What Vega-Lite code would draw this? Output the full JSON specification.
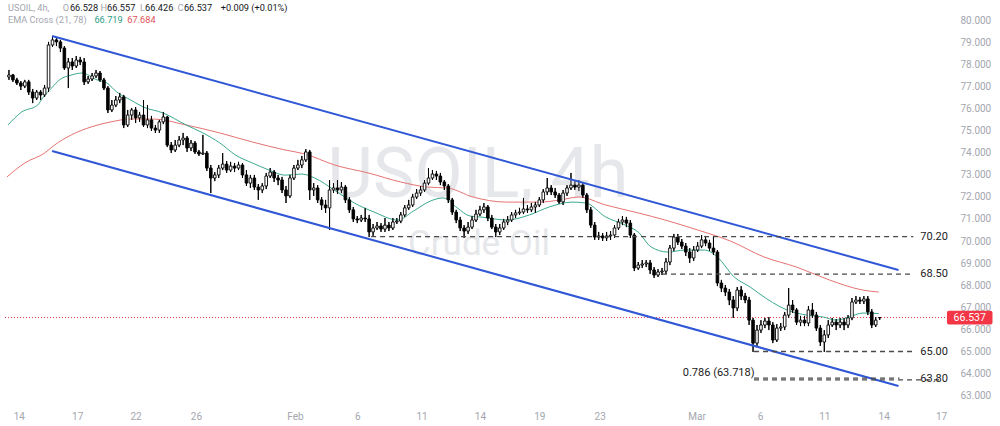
{
  "$schema": "https://vega.github.io/schema/vega-lite/v6.json",
  "width": 950,
  "height": 405,
  "autosize": {"type": "none"},
  "padding": {"left": 0, "top": 0, "right": 50, "bottom": 21},
  "background": "#ffffff",
  "config": {
    "view": {"stroke": null},
    "axis": {"grid": false, "domain": false, "ticks": false, "labelFont": "Roboto", "labelFontSize": 10, "labelColor": "#a3a6af", "labelOverlap": false}
  },
  "datasets": {
    "candles": [
      {"t":1,"o":77.42,"h":77.74,"l":77.29,"c":77.51},
      {"t":2,"o":77.51,"h":77.56,"l":77.20,"c":77.29},
      {"t":3,"o":77.29,"h":77.38,"l":77.06,"c":77.15},
      {"t":4,"o":77.15,"h":77.24,"l":76.83,"c":77.01},
      {"t":5,"o":77.01,"h":77.29,"l":76.92,"c":77.20},
      {"t":6,"o":77.20,"h":77.29,"l":76.61,"c":76.74},
      {"t":7,"o":76.74,"h":76.88,"l":76.24,"c":76.47},
      {"t":8,"o":76.47,"h":76.83,"l":76.38,"c":76.74},
      {"t":9,"o":76.74,"h":76.83,"l":76.38,"c":76.61},
      {"t":10,"o":76.61,"h":77.06,"l":76.52,"c":76.92},
      {"t":11,"o":76.92,"h":79.01,"l":76.74,"c":78.87},
      {"t":12,"o":78.87,"h":79.28,"l":78.78,"c":79.10},
      {"t":13,"o":79.10,"h":79.19,"l":78.82,"c":79.01},
      {"t":14,"o":79.01,"h":79.10,"l":78.55,"c":78.73},
      {"t":15,"o":78.73,"h":78.82,"l":77.74,"c":77.83},
      {"t":16,"o":77.83,"h":78.28,"l":76.92,"c":78.10},
      {"t":17,"o":78.10,"h":78.28,"l":77.74,"c":77.92},
      {"t":18,"o":77.92,"h":78.37,"l":77.83,"c":78.19},
      {"t":19,"o":78.19,"h":78.33,"l":77.96,"c":78.10},
      {"t":20,"o":78.10,"h":78.28,"l":77.06,"c":77.20},
      {"t":21,"o":77.20,"h":77.47,"l":77.11,"c":77.33},
      {"t":22,"o":77.33,"h":77.60,"l":77.24,"c":77.47},
      {"t":23,"o":77.47,"h":77.74,"l":77.38,"c":77.60},
      {"t":24,"o":77.60,"h":77.69,"l":77.20,"c":77.29},
      {"t":25,"o":77.29,"h":77.38,"l":76.83,"c":76.92},
      {"t":26,"o":76.92,"h":77.01,"l":75.79,"c":75.93},
      {"t":27,"o":75.93,"h":76.38,"l":75.84,"c":76.15},
      {"t":28,"o":76.15,"h":76.56,"l":76.06,"c":76.38},
      {"t":29,"o":76.38,"h":76.70,"l":76.24,"c":76.52},
      {"t":30,"o":76.52,"h":76.61,"l":75.11,"c":75.25},
      {"t":31,"o":75.25,"h":75.93,"l":75.16,"c":75.70},
      {"t":32,"o":75.70,"h":76.02,"l":75.48,"c":75.93},
      {"t":33,"o":75.93,"h":76.06,"l":75.34,"c":75.57},
      {"t":34,"o":75.57,"h":75.84,"l":75.39,"c":75.70},
      {"t":35,"o":75.70,"h":76.38,"l":75.16,"c":75.25},
      {"t":36,"o":75.25,"h":76.15,"l":75.11,"c":75.48},
      {"t":37,"o":75.48,"h":75.66,"l":74.98,"c":75.11},
      {"t":38,"o":75.11,"h":75.25,"l":74.89,"c":75.02},
      {"t":39,"o":75.02,"h":75.48,"l":74.89,"c":75.39},
      {"t":40,"o":75.39,"h":75.84,"l":75.29,"c":75.61},
      {"t":41,"o":75.61,"h":75.66,"l":74.25,"c":74.34},
      {"t":42,"o":74.34,"h":74.48,"l":73.98,"c":74.12},
      {"t":43,"o":74.12,"h":74.57,"l":74.03,"c":74.34},
      {"t":44,"o":74.34,"h":74.75,"l":74.25,"c":74.57},
      {"t":45,"o":74.57,"h":74.89,"l":74.34,"c":74.66},
      {"t":46,"o":74.66,"h":74.75,"l":74.03,"c":74.21},
      {"t":47,"o":74.21,"h":74.57,"l":74.07,"c":74.43},
      {"t":48,"o":74.43,"h":74.52,"l":73.94,"c":74.03},
      {"t":49,"o":74.03,"h":74.12,"l":73.85,"c":73.94},
      {"t":50,"o":73.94,"h":74.80,"l":73.89,"c":73.98},
      {"t":51,"o":73.98,"h":74.07,"l":73.17,"c":73.30},
      {"t":52,"o":73.30,"h":73.44,"l":72.17,"c":72.85},
      {"t":53,"o":72.85,"h":73.12,"l":72.71,"c":72.99},
      {"t":54,"o":72.99,"h":73.44,"l":72.85,"c":73.30},
      {"t":55,"o":73.30,"h":73.98,"l":73.21,"c":73.48},
      {"t":56,"o":73.48,"h":73.62,"l":73.08,"c":73.21},
      {"t":57,"o":73.21,"h":73.58,"l":73.12,"c":73.39},
      {"t":58,"o":73.39,"h":73.53,"l":73.12,"c":73.30},
      {"t":59,"o":73.30,"h":73.58,"l":73.21,"c":73.44},
      {"t":60,"o":73.44,"h":73.53,"l":72.85,"c":72.99},
      {"t":61,"o":72.99,"h":73.21,"l":72.49,"c":72.62},
      {"t":62,"o":72.62,"h":72.99,"l":72.40,"c":72.85},
      {"t":63,"o":72.85,"h":72.99,"l":72.31,"c":72.44},
      {"t":64,"o":72.44,"h":72.58,"l":71.86,"c":72.31},
      {"t":65,"o":72.31,"h":72.62,"l":72.17,"c":72.49},
      {"t":66,"o":72.49,"h":73.08,"l":72.35,"c":72.94},
      {"t":67,"o":72.94,"h":73.30,"l":72.85,"c":73.12},
      {"t":68,"o":73.12,"h":73.21,"l":72.67,"c":72.85},
      {"t":69,"o":72.85,"h":72.99,"l":72.53,"c":72.76},
      {"t":70,"o":72.76,"h":72.90,"l":72.17,"c":72.31},
      {"t":71,"o":72.31,"h":72.49,"l":71.72,"c":72.04},
      {"t":72,"o":72.04,"h":72.99,"l":71.95,"c":72.85},
      {"t":73,"o":72.85,"h":73.44,"l":72.76,"c":73.30},
      {"t":74,"o":73.30,"h":73.67,"l":73.21,"c":73.44},
      {"t":75,"o":73.44,"h":73.85,"l":73.30,"c":73.67},
      {"t":76,"o":73.67,"h":74.16,"l":73.58,"c":74.03},
      {"t":77,"o":74.03,"h":74.12,"l":71.86,"c":72.31},
      {"t":78,"o":72.31,"h":72.62,"l":72.04,"c":72.40},
      {"t":79,"o":72.40,"h":72.53,"l":71.72,"c":71.86},
      {"t":80,"o":71.86,"h":71.99,"l":71.41,"c":71.63},
      {"t":81,"o":71.63,"h":71.86,"l":71.27,"c":71.50},
      {"t":82,"o":71.50,"h":72.76,"l":70.50,"c":72.31},
      {"t":83,"o":72.31,"h":72.62,"l":72.17,"c":72.40},
      {"t":84,"o":72.40,"h":72.76,"l":72.13,"c":72.31},
      {"t":85,"o":72.31,"h":72.67,"l":72.17,"c":72.44},
      {"t":86,"o":72.44,"h":72.53,"l":71.72,"c":71.86},
      {"t":87,"o":71.86,"h":71.99,"l":71.27,"c":71.41},
      {"t":88,"o":71.41,"h":71.54,"l":70.86,"c":71.00},
      {"t":89,"o":71.00,"h":71.13,"l":70.81,"c":70.95},
      {"t":90,"o":70.95,"h":71.18,"l":70.86,"c":71.04},
      {"t":91,"o":71.04,"h":71.50,"l":70.86,"c":71.00},
      {"t":92,"o":71.00,"h":71.18,"l":70.18,"c":70.41},
      {"t":93,"o":70.41,"h":70.77,"l":70.23,"c":70.59},
      {"t":94,"o":70.59,"h":70.86,"l":70.50,"c":70.68},
      {"t":95,"o":70.68,"h":70.81,"l":70.41,"c":70.54},
      {"t":96,"o":70.54,"h":71.04,"l":70.41,"c":70.72},
      {"t":97,"o":70.72,"h":70.86,"l":70.45,"c":70.59},
      {"t":98,"o":70.59,"h":71.04,"l":70.50,"c":70.86},
      {"t":99,"o":70.86,"h":71.04,"l":70.77,"c":70.90},
      {"t":100,"o":70.90,"h":71.31,"l":70.81,"c":71.18},
      {"t":101,"o":71.18,"h":71.63,"l":71.09,"c":71.50},
      {"t":102,"o":71.50,"h":71.86,"l":71.41,"c":71.63},
      {"t":103,"o":71.63,"h":72.13,"l":71.54,"c":71.99},
      {"t":104,"o":71.99,"h":72.35,"l":71.90,"c":72.17},
      {"t":105,"o":72.17,"h":72.49,"l":72.04,"c":72.31},
      {"t":106,"o":72.31,"h":72.76,"l":72.22,"c":72.62},
      {"t":107,"o":72.62,"h":73.30,"l":72.53,"c":72.85},
      {"t":108,"o":72.85,"h":73.21,"l":72.76,"c":73.03},
      {"t":109,"o":73.03,"h":73.17,"l":72.76,"c":72.94},
      {"t":110,"o":72.94,"h":73.08,"l":72.53,"c":72.67},
      {"t":111,"o":72.67,"h":72.76,"l":72.31,"c":72.49},
      {"t":112,"o":72.49,"h":72.58,"l":71.72,"c":71.86},
      {"t":113,"o":71.86,"h":71.95,"l":71.18,"c":71.31},
      {"t":114,"o":71.31,"h":71.41,"l":70.81,"c":70.95},
      {"t":115,"o":70.95,"h":71.09,"l":70.45,"c":70.59},
      {"t":116,"o":70.59,"h":70.72,"l":70.14,"c":70.45},
      {"t":117,"o":70.45,"h":70.86,"l":70.32,"c":70.63},
      {"t":118,"o":70.63,"h":71.13,"l":70.54,"c":70.95},
      {"t":119,"o":70.95,"h":71.41,"l":70.86,"c":71.22},
      {"t":120,"o":71.22,"h":71.59,"l":71.13,"c":71.41},
      {"t":121,"o":71.41,"h":71.72,"l":71.27,"c":71.54},
      {"t":122,"o":71.54,"h":71.63,"l":70.90,"c":71.04},
      {"t":123,"o":71.04,"h":71.18,"l":70.54,"c":70.63},
      {"t":124,"o":70.63,"h":70.77,"l":70.18,"c":70.41},
      {"t":125,"o":70.41,"h":70.77,"l":70.27,"c":70.59},
      {"t":126,"o":70.59,"h":71.00,"l":70.50,"c":70.86},
      {"t":127,"o":70.86,"h":71.13,"l":70.72,"c":70.95},
      {"t":128,"o":70.95,"h":71.31,"l":70.86,"c":71.18},
      {"t":129,"o":71.18,"h":71.41,"l":71.04,"c":71.27},
      {"t":130,"o":71.27,"h":71.50,"l":71.18,"c":71.31},
      {"t":131,"o":71.31,"h":71.95,"l":71.22,"c":71.45},
      {"t":132,"o":71.45,"h":71.63,"l":71.27,"c":71.41},
      {"t":133,"o":71.41,"h":71.72,"l":71.31,"c":71.54},
      {"t":134,"o":71.54,"h":71.77,"l":71.27,"c":71.63},
      {"t":135,"o":71.63,"h":71.99,"l":71.54,"c":71.86},
      {"t":136,"o":71.86,"h":72.35,"l":71.72,"c":72.22},
      {"t":137,"o":72.22,"h":72.85,"l":72.08,"c":72.40},
      {"t":138,"o":72.40,"h":72.53,"l":72.08,"c":72.22},
      {"t":139,"o":72.22,"h":72.40,"l":71.95,"c":72.08},
      {"t":140,"o":72.08,"h":72.17,"l":71.68,"c":71.77},
      {"t":141,"o":71.77,"h":72.31,"l":71.63,"c":72.17},
      {"t":142,"o":72.17,"h":72.53,"l":72.04,"c":72.40},
      {"t":143,"o":72.40,"h":73.08,"l":72.31,"c":72.53},
      {"t":144,"o":72.53,"h":72.71,"l":72.31,"c":72.44},
      {"t":145,"o":72.44,"h":72.76,"l":72.26,"c":72.53},
      {"t":146,"o":72.53,"h":72.62,"l":71.95,"c":72.08},
      {"t":147,"o":72.08,"h":72.17,"l":71.27,"c":71.41},
      {"t":148,"o":71.41,"h":71.54,"l":70.59,"c":70.72},
      {"t":149,"o":70.72,"h":70.86,"l":70.05,"c":70.18},
      {"t":150,"o":70.18,"h":70.41,"l":70.05,"c":70.23},
      {"t":151,"o":70.23,"h":70.36,"l":70.00,"c":70.14},
      {"t":152,"o":70.14,"h":70.41,"l":70.00,"c":70.23},
      {"t":153,"o":70.23,"h":70.45,"l":70.05,"c":70.27},
      {"t":154,"o":70.27,"h":70.72,"l":70.14,"c":70.59},
      {"t":155,"o":70.59,"h":71.00,"l":70.50,"c":70.86},
      {"t":156,"o":70.86,"h":71.13,"l":70.72,"c":70.95},
      {"t":157,"o":70.95,"h":71.09,"l":70.63,"c":70.81},
      {"t":158,"o":70.81,"h":70.95,"l":70.14,"c":70.27},
      {"t":159,"o":70.27,"h":70.36,"l":68.64,"c":68.78},
      {"t":160,"o":68.78,"h":69.05,"l":68.69,"c":68.91},
      {"t":161,"o":68.91,"h":69.14,"l":68.78,"c":68.96},
      {"t":162,"o":68.96,"h":69.14,"l":68.82,"c":69.01},
      {"t":163,"o":69.01,"h":69.14,"l":68.51,"c":68.69},
      {"t":164,"o":68.69,"h":68.82,"l":68.33,"c":68.46},
      {"t":165,"o":68.46,"h":68.73,"l":68.37,"c":68.60},
      {"t":166,"o":68.60,"h":68.78,"l":68.46,"c":68.64},
      {"t":167,"o":68.64,"h":69.23,"l":68.51,"c":69.05},
      {"t":168,"o":69.05,"h":69.82,"l":68.91,"c":69.68},
      {"t":169,"o":69.68,"h":70.32,"l":69.55,"c":70.18},
      {"t":170,"o":70.18,"h":70.32,"l":69.82,"c":69.95},
      {"t":171,"o":69.95,"h":70.09,"l":69.64,"c":69.77},
      {"t":172,"o":69.77,"h":69.91,"l":69.32,"c":69.50},
      {"t":173,"o":69.50,"h":69.68,"l":69.01,"c":69.23},
      {"t":174,"o":69.23,"h":69.77,"l":69.10,"c":69.59},
      {"t":175,"o":69.59,"h":69.95,"l":69.50,"c":69.77},
      {"t":176,"o":69.77,"h":70.27,"l":69.68,"c":70.05},
      {"t":177,"o":70.05,"h":70.23,"l":69.77,"c":69.91},
      {"t":178,"o":69.91,"h":70.05,"l":69.55,"c":69.68},
      {"t":179,"o":69.68,"h":70.23,"l":69.37,"c":69.50},
      {"t":180,"o":69.50,"h":69.59,"l":67.96,"c":68.10},
      {"t":181,"o":68.10,"h":68.24,"l":67.69,"c":67.87},
      {"t":182,"o":67.87,"h":68.01,"l":67.51,"c":67.69},
      {"t":183,"o":67.69,"h":67.83,"l":67.10,"c":67.33},
      {"t":184,"o":67.33,"h":67.51,"l":66.52,"c":66.97},
      {"t":185,"o":66.97,"h":67.92,"l":66.83,"c":67.78},
      {"t":186,"o":67.78,"h":67.96,"l":67.33,"c":67.51},
      {"t":187,"o":67.51,"h":67.65,"l":67.19,"c":67.33},
      {"t":188,"o":67.33,"h":67.47,"l":66.20,"c":66.42},
      {"t":189,"o":66.42,"h":66.52,"l":64.98,"c":65.38},
      {"t":190,"o":65.38,"h":66.20,"l":65.25,"c":65.97},
      {"t":191,"o":65.97,"h":66.42,"l":65.84,"c":66.20},
      {"t":192,"o":66.20,"h":66.52,"l":66.06,"c":66.38},
      {"t":193,"o":66.38,"h":66.56,"l":65.97,"c":66.20},
      {"t":194,"o":66.20,"h":66.33,"l":65.38,"c":65.52},
      {"t":195,"o":65.52,"h":66.24,"l":65.43,"c":66.06},
      {"t":196,"o":66.06,"h":66.29,"l":65.93,"c":66.11},
      {"t":197,"o":66.11,"h":66.79,"l":65.97,"c":66.65},
      {"t":198,"o":66.65,"h":67.87,"l":66.52,"c":67.10},
      {"t":199,"o":67.10,"h":67.33,"l":66.74,"c":66.88},
      {"t":200,"o":66.88,"h":66.97,"l":66.20,"c":66.33},
      {"t":201,"o":66.33,"h":66.61,"l":66.15,"c":66.42},
      {"t":202,"o":66.42,"h":66.61,"l":66.15,"c":66.29},
      {"t":203,"o":66.29,"h":67.06,"l":66.15,"c":66.88},
      {"t":204,"o":66.88,"h":67.19,"l":66.52,"c":66.65},
      {"t":205,"o":66.65,"h":66.79,"l":65.93,"c":66.06},
      {"t":206,"o":66.06,"h":66.20,"l":65.25,"c":65.43},
      {"t":207,"o":65.43,"h":65.97,"l":64.98,"c":65.75},
      {"t":208,"o":65.75,"h":66.42,"l":65.61,"c":66.20},
      {"t":209,"o":66.20,"h":66.52,"l":66.11,"c":66.33},
      {"t":210,"o":66.33,"h":66.47,"l":65.97,"c":66.20},
      {"t":211,"o":66.20,"h":66.52,"l":66.06,"c":66.33},
      {"t":212,"o":66.33,"h":66.52,"l":65.97,"c":66.20},
      {"t":213,"o":66.20,"h":66.65,"l":66.06,"c":66.52},
      {"t":214,"o":66.52,"h":67.42,"l":66.42,"c":67.24},
      {"t":215,"o":67.24,"h":67.51,"l":67.15,"c":67.33},
      {"t":216,"o":67.33,"h":67.47,"l":67.15,"c":67.28},
      {"t":217,"o":67.28,"h":67.51,"l":67.15,"c":67.38},
      {"t":218,"o":67.38,"h":67.51,"l":66.65,"c":66.79},
      {"t":219,"o":66.79,"h":66.92,"l":66.06,"c":66.20},
      {"t":220,"o":66.20,"h":66.56,"l":66.11,"c":66.42},
      {"t":221,"o":66.528,"h":66.557,"l":66.426,"c":66.537}
    ],
    "ema21": [
      {"t":0.75,"v":75.25},{"t":4.25,"v":75.84},{"t":8.25,"v":76.15},{"t":9.5,"v":76.47},{"t":11.75,"v":76.92},
      {"t":13.75,"v":77.29},{"t":16.75,"v":77.51},{"t":19.5,"v":77.60},{"t":23.25,"v":77.29},{"t":25.75,"v":77.15},
      {"t":28.25,"v":76.74},{"t":31.75,"v":76.38},{"t":35,"v":76.06},{"t":40,"v":75.79},{"t":45.75,"v":75.25},
      {"t":50,"v":74.89},{"t":54.25,"v":74.44},{"t":58.25,"v":73.89},{"t":62.5,"v":73.53},{"t":66.75,"v":73.21},
      {"t":70.75,"v":72.98},{"t":75,"v":73.03},{"t":78.25,"v":72.85},{"t":83.25,"v":72.30},{"t":88.25,"v":71.72},
      {"t":93.25,"v":71.31},{"t":99.25,"v":70.95},{"t":103.25,"v":71.36},{"t":107.5,"v":71.81},{"t":110.75,"v":71.95},
      {"t":114.25,"v":71.50},{"t":117.5,"v":71.13},{"t":120,"v":71.09},{"t":126.75,"v":70.95},{"t":132.5,"v":71.18},
      {"t":137.5,"v":71.54},{"t":143.25,"v":71.76},{"t":146.75,"v":71.72},{"t":151.75,"v":71.09},{"t":156.75,"v":70.72},
      {"t":160,"v":70.40},{"t":163.25,"v":69.73},{"t":167.5,"v":69.50},{"t":171.75,"v":69.59},{"t":176.75,"v":69.59},
      {"t":180,"v":69.27},{"t":184.25,"v":68.37},{"t":188.25,"v":67.92},{"t":192.5,"v":67.38},{"t":198.25,"v":66.83},
      {"t":202.5,"v":66.65},{"t":206.75,"v":66.56},{"t":210,"v":66.42},{"t":213.25,"v":66.56},{"t":216.75,"v":66.74},
      {"t":220.75,"v":66.72}
    ],
    "ema78": [
      {"t":0.5,"v":72.90},{"t":5,"v":73.53},{"t":10,"v":73.98},{"t":12.5,"v":74.34},{"t":16.75,"v":74.80},
      {"t":21.75,"v":75.16},{"t":26.75,"v":75.39},{"t":31.75,"v":75.52},{"t":37.5,"v":75.52},{"t":45.75,"v":75.25},
      {"t":54.25,"v":74.89},{"t":62.5,"v":74.48},{"t":70.75,"v":74.12},{"t":75.75,"v":73.94},{"t":83.25,"v":73.44},
      {"t":91.75,"v":73.08},{"t":100,"v":72.67},{"t":106.75,"v":72.44},{"t":111.75,"v":72.40},{"t":118.25,"v":71.99},
      {"t":126.75,"v":71.76},{"t":135,"v":71.76},{"t":140,"v":71.85},{"t":145,"v":71.99},{"t":151.75,"v":71.63},
      {"t":160,"v":71.27},{"t":166.75,"v":70.95},{"t":175,"v":70.50},{"t":183.25,"v":70.00},{"t":191.75,"v":69.28},
      {"t":200,"v":68.82},{"t":208.25,"v":68.24},{"t":216.75,"v":67.78},{"t":220.75,"v":67.69}
    ],
    "channels": [
      {"t1":11.9,"p1":79.28,"t2":225.75,"p2":68.69},
      {"t1":11.9,"p1":74.07,"t2":225.75,"p2":63.44}
    ],
    "levels": [
      {"p":70.20,"t1":92.5,"t2":229.5},
      {"p":68.50,"t1":166,"t2":229.5},
      {"p":65.00,"t1":189.25,"t2":229.5},
      {"p":63.80,"t1":189.25,"t2":226},
      {"p":63.718,"t1":189.25,"t2":237}
    ],
    "levelLabels": [
      {"p":70.20,"lab":"70.20"},
      {"p":68.50,"lab":"68.50"},
      {"p":65.00,"lab":"65.00"},
      {"p":63.76,"lab":"63.80"}
    ]
  },
  "layer": [
    {
      "data": {"name": "candles"},
      "mark": {"type": "rule", "color": "#000000", "strokeWidth": 1},
      "encoding": {
        "x": {
          "field": "t", "type": "quantitative",
          "scale": {"domain": [0, 237.5], "nice": false, "zero": false},
          "axis": {
            "orient": "bottom", "title": null, "labelPadding": 6, "labelOverlap": false, "labelFlush": false, "tickCount": 30,
            "values": [3.5, 18.25, 33, 48.25, 73.25, 89, 105.25, 120, 135, 150.25, 174.75, 190.75, 207, 222, 236.5],
            "labelExpr": "['14','17','22','26','Feb','6','11','14','19','23','Mar','6','11','14','17'][indexof([3.5,18.25,33,48.25,73.25,89,105.25,120,135,150.25,174.75,190.75,207,222,236.5], datum.value)]"
          }
        },
        "y": {
          "field": "l", "type": "quantitative",
          "scale": {"domain": [62.58, 80.905], "nice": false, "zero": false},
          "axis": {
            "orient": "right", "title": null, "format": ".3f", "labelPadding": 10, "labelOverlap": false, "labelFlush": false, "tickCount": 30,
            "values": [63, 64, 65, 66, 67, 68, 69, 70, 71, 72, 73, 74, 75, 76, 77, 78, 79, 80]
          }
        },
        "y2": {"field": "h"}
      }
    },
    {
      "data": {"values": [{}]},
      "mark": {"type": "text", "font": "Roboto", "fontSize": 70, "color": "#e6e7ea", "align": "center", "baseline": "alphabetic"},
      "encoding": {"x": {"datum": 119.5}, "y": {"datum": 72.0}, "text": {"value": "USOIL, 4h"}}
    },
    {
      "data": {"values": [{}]},
      "mark": {"type": "text", "font": "Roboto", "fontSize": 35, "color": "#e6e7ea", "align": "center", "baseline": "alphabetic"},
      "encoding": {"x": {"datum": 119.75}, "y": {"datum": 69.37}, "text": {"value": "Crude Oil"}}
    },
    {
      "data": {"values": [{}]},
      "mark": {"type": "rule", "color": "#f23645", "strokeDash": [1, 2], "strokeWidth": 1},
      "encoding": {"x": {"datum": 0}, "x2": {"datum": 237.5}, "y": {"datum": 66.537}}
    },
    {
      "data": {"name": "ema78"},
      "mark": {"type": "line", "color": "#e57373", "strokeWidth": 1, "interpolate": "monotone"},
      "encoding": {"x": {"field": "t", "type": "quantitative", "axis": {"title": null}}, "y": {"field": "v", "type": "quantitative", "axis": {"title": null}}}
    },
    {
      "data": {"name": "ema21"},
      "mark": {"type": "line", "color": "#3aa88f", "strokeWidth": 1, "interpolate": "monotone"},
      "encoding": {"x": {"field": "t", "type": "quantitative", "axis": {"title": null}}, "y": {"field": "v", "type": "quantitative", "axis": {"title": null}}}
    },
    {
      "data": {"name": "candles"},
      "mark": {"type": "rule", "color": "#000000", "strokeWidth": 1},
      "encoding": {
        "x": {"field": "t", "type": "quantitative", "axis": {"title": null}},
        "y": {"field": "l", "type": "quantitative", "axis": {"title": null}},
        "y2": {"field": "h"}
      }
    },
    {
      "data": {"name": "candles"},
      "mark": {"type": "bar", "width": 2.6, "stroke": "#000000", "strokeWidth": 0.9},
      "encoding": {
        "x": {"field": "t", "type": "quantitative", "axis": {"title": null}},
        "y": {"field": "o", "type": "quantitative", "axis": {"title": null}},
        "y2": {"field": "c"},
        "fill": {"condition": {"test": "datum.c >= datum.o", "value": "#ffffff"}, "value": "#000000"}
      }
    },
    {
      "data": {"name": "channels"},
      "mark": {"type": "rule", "color": "#2f57d6", "strokeWidth": 2},
      "encoding": {
        "x": {"field": "t1", "type": "quantitative", "axis": {"title": null}}, "x2": {"field": "t2"},
        "y": {"field": "p1", "type": "quantitative", "axis": {"title": null}}, "y2": {"field": "p2"}
      }
    },
    {
      "data": {"name": "levels"},
      "mark": {"type": "rule", "color": "#4a4a4a", "strokeDash": [5, 4], "strokeWidth": 1.3},
      "encoding": {
        "x": {"field": "t1", "type": "quantitative", "axis": {"title": null}}, "x2": {"field": "t2"},
        "y": {"field": "p", "type": "quantitative", "axis": {"title": null}}
      }
    },
    {
      "data": {"name": "levelLabels"},
      "mark": {"type": "text", "font": "Roboto", "fontSize": 11, "color": "#222222", "align": "left", "baseline": "middle"},
      "encoding": {
        "x": {"datum": 231.25},
        "y": {"field": "p", "type": "quantitative", "axis": {"title": null}},
        "text": {"field": "lab"}
      }
    },
    {
      "data": {"values": [{}]},
      "mark": {"type": "text", "font": "Roboto", "fontSize": 11, "color": "#222222", "align": "left", "baseline": "middle"},
      "encoding": {"x": {"datum": 171.25}, "y": {"datum": 64.03}, "text": {"value": "0.786 (63.718)"}}
    },
    {
      "data": {"values": [{}]},
      "mark": {"type": "rect", "color": "#f23645", "cornerRadius": 2},
      "encoding": {"x": {"datum": 238}, "x2": {"datum": 249.5}, "y": {"datum": 66.85}, "y2": {"datum": 66.22}}
    },
    {
      "data": {"values": [{}]},
      "mark": {"type": "text", "font": "Roboto", "fontSize": 10.5, "color": "#ffffff", "align": "center", "baseline": "middle"},
      "encoding": {"x": {"datum": 243.75}, "y": {"datum": 66.537}, "text": {"value": "66.537"}}
    },
    {
      "data": {"values": [{}]},
      "mark": {"type": "text", "font": "Roboto", "fontSize": 9.2, "color": "#a3a6af", "align": "left", "baseline": "middle"},
      "encoding": {"x": {"datum": 0.75}, "y": {"datum": 80.54}, "text": {"value": "USOIL, 4h,"}}
    },
    {
      "data": {"values": [{}]},
      "mark": {"type": "text", "font": "Roboto", "fontSize": 9.2, "color": "#a3a6af", "align": "left", "baseline": "middle"},
      "encoding": {"x": {"datum": 14.6}, "y": {"datum": 80.54}, "text": {"value": "O"}}
    },
    {
      "data": {"values": [{}]},
      "mark": {"type": "text", "font": "Roboto", "fontSize": 9.2, "color": "#131722", "align": "left", "baseline": "middle"},
      "encoding": {"x": {"datum": 16.4}, "y": {"datum": 80.54}, "text": {"value": "66.528"}}
    },
    {
      "data": {"values": [{}]},
      "mark": {"type": "text", "font": "Roboto", "fontSize": 9.2, "color": "#a3a6af", "align": "left", "baseline": "middle"},
      "encoding": {"x": {"datum": 24.1}, "y": {"datum": 80.54}, "text": {"value": "H"}}
    },
    {
      "data": {"values": [{}]},
      "mark": {"type": "text", "font": "Roboto", "fontSize": 9.2, "color": "#131722", "align": "left", "baseline": "middle"},
      "encoding": {"x": {"datum": 25.8}, "y": {"datum": 80.54}, "text": {"value": "66.557"}}
    },
    {
      "data": {"values": [{}]},
      "mark": {"type": "text", "font": "Roboto", "fontSize": 9.2, "color": "#a3a6af", "align": "left", "baseline": "middle"},
      "encoding": {"x": {"datum": 34.1}, "y": {"datum": 80.54}, "text": {"value": "L"}}
    },
    {
      "data": {"values": [{}]},
      "mark": {"type": "text", "font": "Roboto", "fontSize": 9.2, "color": "#131722", "align": "left", "baseline": "middle"},
      "encoding": {"x": {"datum": 35.4}, "y": {"datum": 80.54}, "text": {"value": "66.426"}}
    },
    {
      "data": {"values": [{}]},
      "mark": {"type": "text", "font": "Roboto", "fontSize": 9.2, "color": "#a3a6af", "align": "left", "baseline": "middle"},
      "encoding": {"x": {"datum": 43.6}, "y": {"datum": 80.54}, "text": {"value": "C"}}
    },
    {
      "data": {"values": [{}]},
      "mark": {"type": "text", "font": "Roboto", "fontSize": 9.2, "color": "#131722", "align": "left", "baseline": "middle"},
      "encoding": {"x": {"datum": 45.2}, "y": {"datum": 80.54}, "text": {"value": "66.537"}}
    },
    {
      "data": {"values": [{}]},
      "mark": {"type": "text", "font": "Roboto", "fontSize": 9.2, "color": "#131722", "align": "left", "baseline": "middle"},
      "encoding": {"x": {"datum": 54.5}, "y": {"datum": 80.54}, "text": {"value": "+0.009 (+0.01%)"}}
    },
    {
      "data": {"values": [{}]},
      "mark": {"type": "text", "font": "Roboto", "fontSize": 9.2, "color": "#a3a6af", "align": "left", "baseline": "middle"},
      "encoding": {"x": {"datum": 0.75}, "y": {"datum": 80.0}, "text": {"value": "EMA Cross (21, 78)"}}
    },
    {
      "data": {"values": [{}]},
      "mark": {"type": "text", "font": "Roboto", "fontSize": 9.2, "color": "#2e9e86", "align": "left", "baseline": "middle"},
      "encoding": {"x": {"datum": 22.6}, "y": {"datum": 80.0}, "text": {"value": "66.719"}}
    },
    {
      "data": {"values": [{}]},
      "mark": {"type": "text", "font": "Roboto", "fontSize": 9.2, "color": "#e0525a", "align": "left", "baseline": "middle"},
      "encoding": {"x": {"datum": 30.9}, "y": {"datum": 80.0}, "text": {"value": "67.684"}}
    }
  ]
}
